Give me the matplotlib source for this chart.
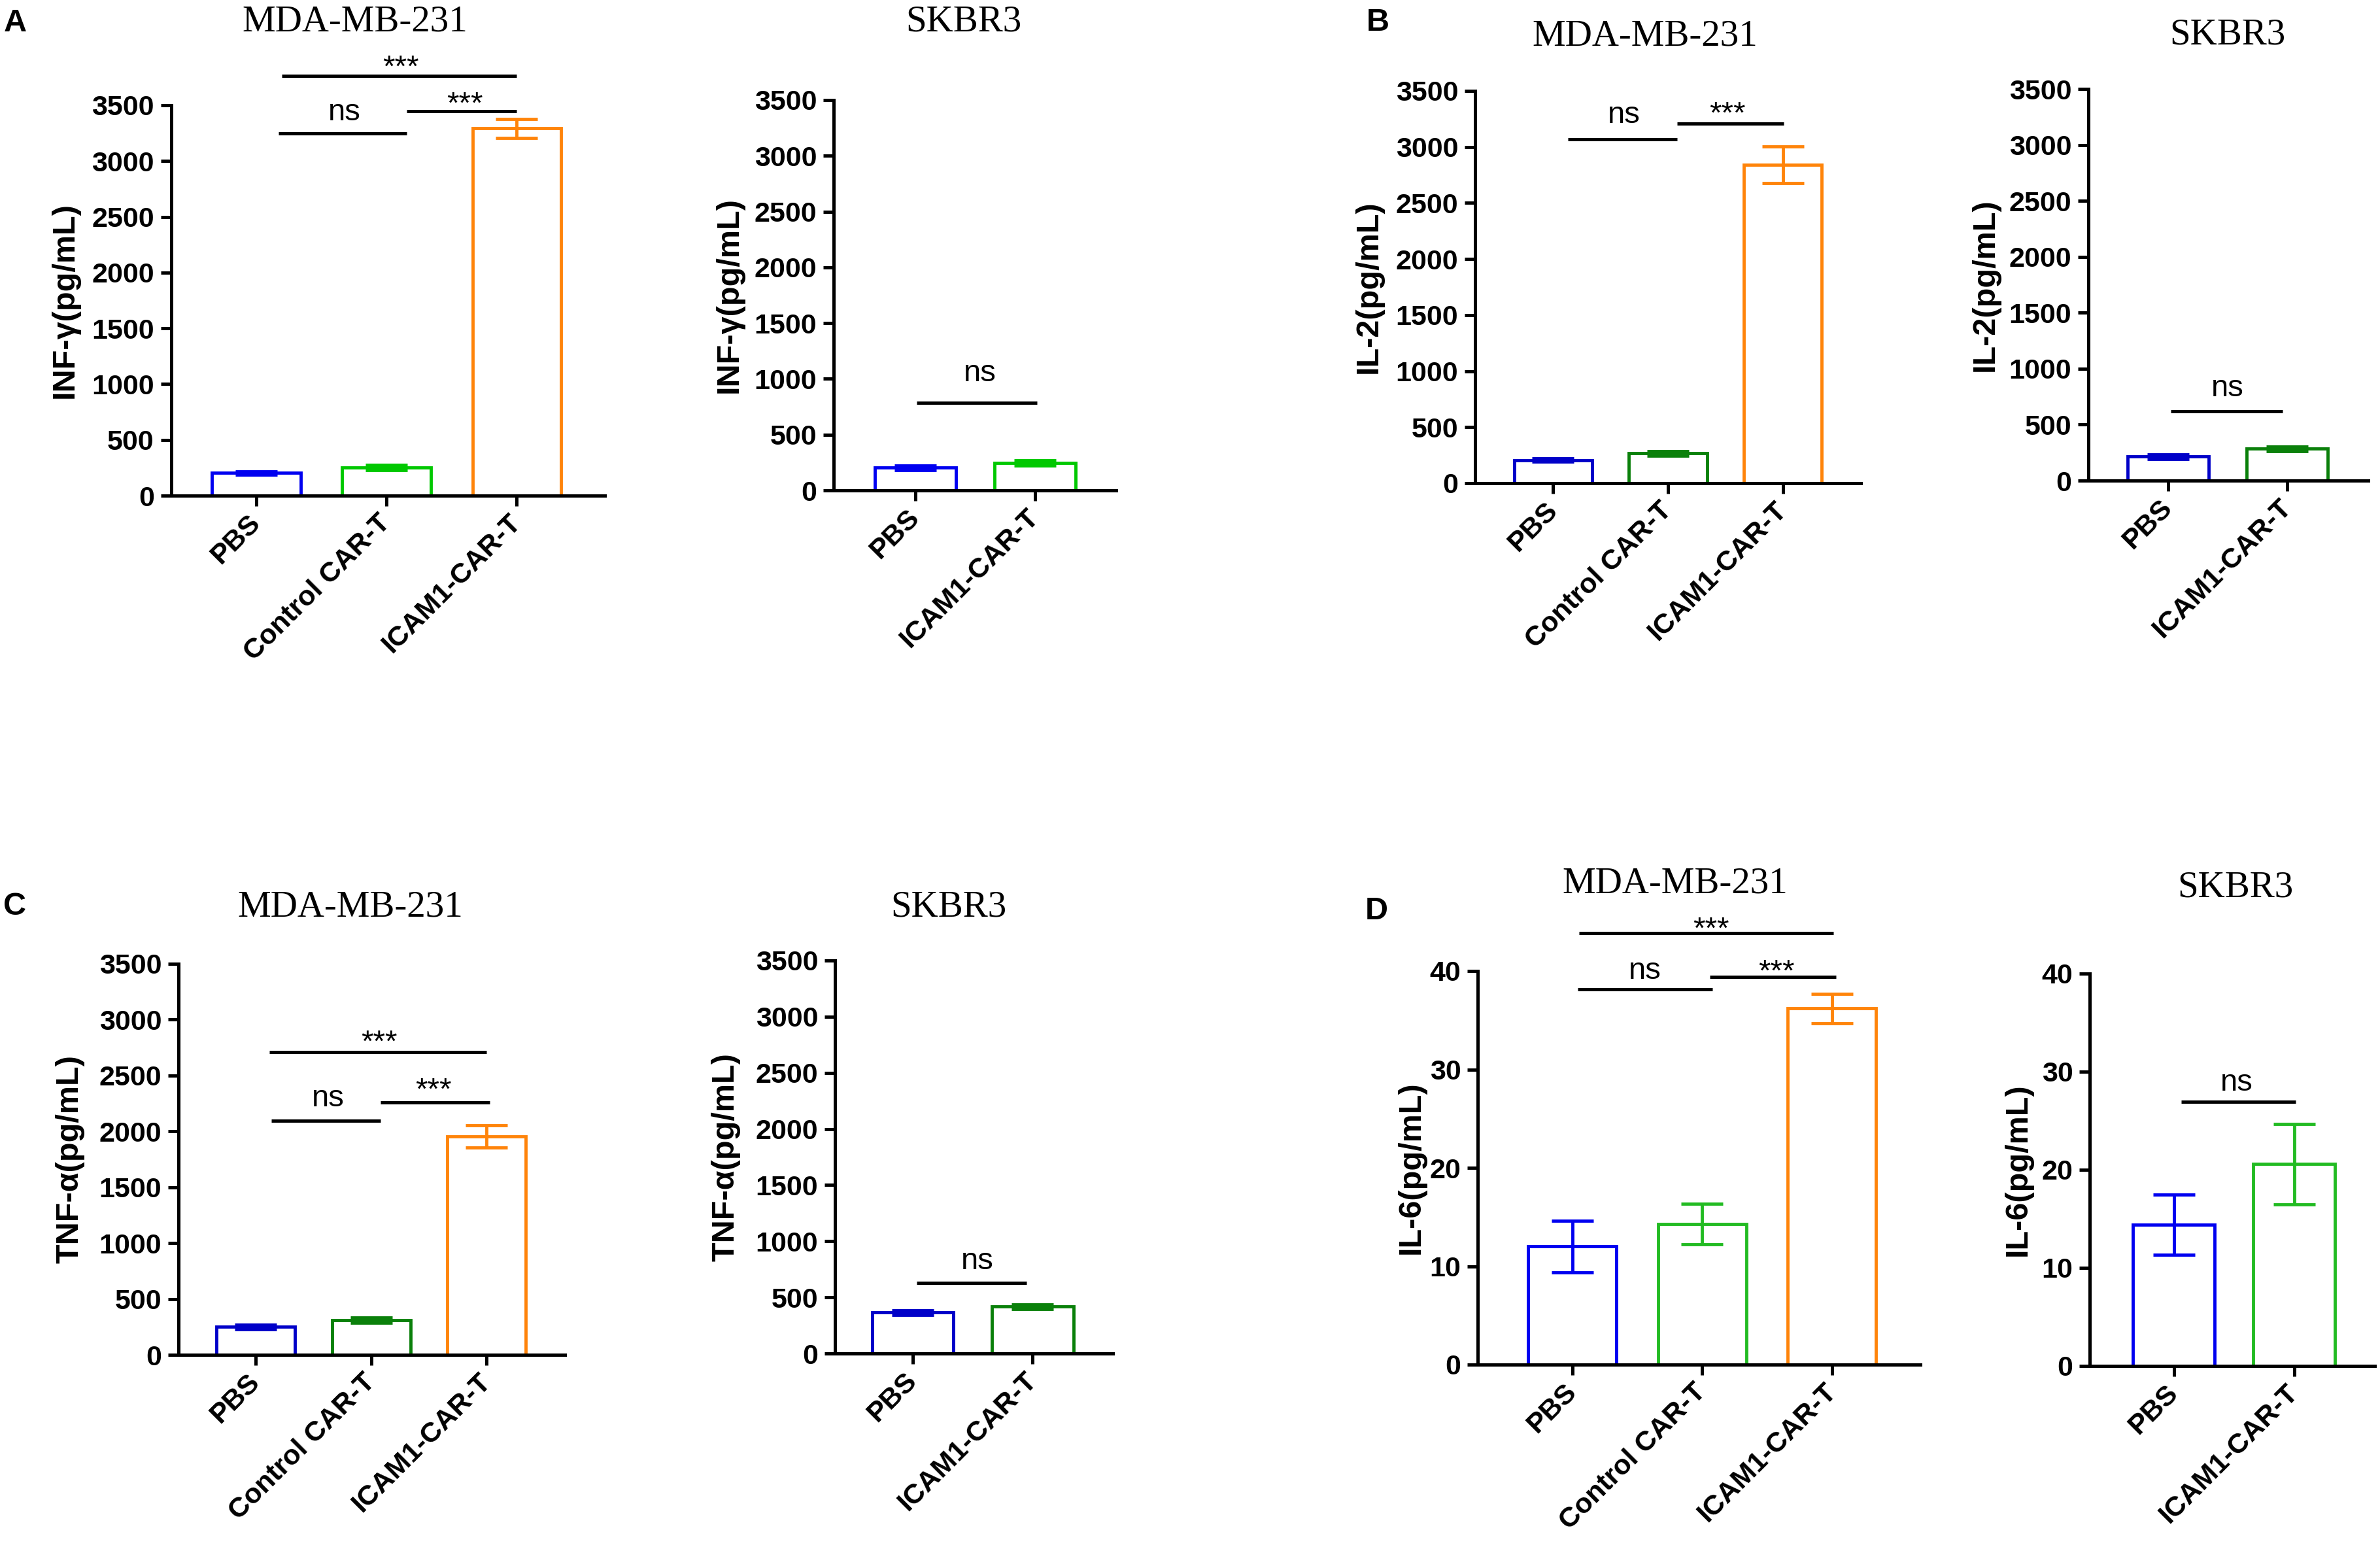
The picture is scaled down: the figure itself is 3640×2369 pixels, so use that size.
import matplotlib
matplotlib.use('Agg')
import matplotlib.pyplot as plt
from matplotlib.transforms import offset_copy

SANS = 'Liberation Sans'
SERIF = 'Liberation Serif'

# ---- data ----
cats3 = ['PBS', 'Control CAR-T', 'ICAM1-CAR-T']
cats2 = ['PBS', 'ICAM1-CAR-T']

ifn_mda = [204, 251, 3292]
ifn_mda_err = [15, 25, 85]
ifn_sk = [204, 247]
ifn_sk_err = [20, 25]

il2_mda = [207, 266, 2840]
il2_mda_err = [15, 22, 165]
il2_sk = [215, 285]
il2_sk_err = [20, 20]

tnf_mda = [251, 311, 1955]
tnf_mda_err = [20, 25, 100]
tnf_sk = [365, 417]
tnf_sk_err = [22, 20]

il6_mda = [12.0, 14.3, 36.2]
il6_mda_err = [2.6, 2.05, 1.5]
il6_sk = [14.4, 20.6]
il6_sk_err = [3.05, 4.1]

BLUE_A = '#0000f0'
BLUE_B = '#0000c8'
GREEN_A = '#00c800'
GREEN_B = '#0a800a'
GREEN_D = '#22bb22'
ORANGE = '#ff840a'

W, H = 3640, 2369
fig = plt.figure(figsize=(W / 100, H / 100), dpi=100)
LW = 3.5


def panel(box, xlim, cats, vals, errs, colors, ytop, ystep, ylabel, ylab_x,
          title, title_xy, brackets):
    l, r, t, b = box
    ax = fig.add_axes([l / W, 1 - b / H, (r - l) / W, (b - t) / H])
    x = list(range(len(cats)))
    ax.bar(x, vals, width=0.68, fill=False, edgecolor=colors, linewidth=LW, zorder=2)
    for xi, v, e, c in zip(x, vals, errs, colors):
        ax.errorbar(xi, v, yerr=e, fmt='none', ecolor=c, elinewidth=LW,
                    capsize=23, capthick=LW, zorder=3)
    ax.set_xlim(*xlim)
    ax.set_ylim(0, ytop)
    ax.set_yticks(list(range(0, ytop + 1, ystep)))
    ax.set_xticks(x)
    ax.set_xticklabels(cats, rotation=45, ha='right', va='center',
                       rotation_mode='anchor')
    for s in ['top', 'right']:
        ax.spines[s].set_visible(False)
    for s in ['left', 'bottom']:
        ax.spines[s].set_linewidth(3.6)
        ax.spines[s].set_zorder(4)
    ax.tick_params(width=3.6, length=11.5, labelsize=31)
    ax.tick_params(axis='y', pad=7)
    ax.tick_params(axis='x', pad=14)
    for lab in ax.get_xticklabels() + ax.get_yticklabels():
        lab.set_fontfamily(SANS)
        lab.set_fontweight('bold')
    fig.text(ylab_x / W, 1 - ((t + b) / 2) / H, ylabel, rotation=90, ha='center',
             va='center', fontsize=35, fontweight='bold', family=SANS)
    fig.text(title_xy[0] / W, 1 - title_xy[1] / H, title, ha='center',
             va='baseline', fontsize=41, family=SERIF)
    star_tr = offset_copy(ax.transData, fig=fig, y=-19, units='points')
    for x1, x2, y, txt, tx, ty in brackets:
        ax.plot([x1, x2], [y, y], color='black', lw=3.6, clip_on=False,
                solid_capstyle='butt', zorder=5)
        if txt == 'ns':
            ax.text(tx, ty, txt, ha='center', va='baseline', fontsize=34,
                    family=SANS, clip_on=False)
        else:
            ax.text(tx, ty, txt, ha='center', va='baseline', fontsize=34,
                    family=SANS, clip_on=False, transform=star_tr)
    return ax


# A
panel((261.5, 925, 161, 758), (-0.654, 2.676), cats3, ifn_mda, ifn_mda_err,
      [BLUE_A, GREEN_A, ORANGE], 3500, 500, 'INF-γ(pg/mL)', 99,
      'MDA-MB-231', (543, 48),
      [(0.17, 1.157, 3249, 'ns', 0.68, 3363),
       (1.157, 2.0, 3449, '***', 1.60, 3586),
       (0.196, 2.0, 3763, '***', 1.11, 3912)])
panel((1275, 1707, 153, 750), (-0.685, 1.68), cats2, ifn_sk, ifn_sk_err,
      [BLUE_A, GREEN_A], 3500, 500, 'INF-γ(pg/mL)', 1115,
      'SKBR3', (1474, 48),
      [(0.01, 1.02, 785, 'ns', 0.54, 981)])

# B
panel((2256, 2846, 139, 739), (-0.68, 2.68), cats3, il2_mda, il2_mda_err,
      [BLUE_B, GREEN_B, ORANGE], 3500, 500, 'IL-2(pg/mL)', 2093,
      'MDA-MB-231', (2516, 69),
      [(0.13, 1.08, 3070, 'ns', 0.62, 3215),
       (1.08, 2.01, 3207, '***', 1.52, 3371)])
panel((3194, 3622, 136, 735), (-0.67, 1.68), cats2, il2_sk, il2_sk_err,
      [BLUE_B, GREEN_B], 3500, 500, 'IL-2(pg/mL)', 3036,
      'SKBR3', (3407, 68),
      [(0.02, 0.96, 618, 'ns', 0.5, 755)])

# C
panel((273, 864, 1474, 2072), (-0.67, 2.68), cats3, tnf_mda, tnf_mda_err,
      [BLUE_B, GREEN_B, ORANGE], 3500, 500, 'TNF-α(pg/mL)', 107,
      'MDA-MB-231', (536, 1401),
      [(0.135, 1.08, 2097, 'ns', 0.625, 2224),
       (1.08, 2.03, 2260, '***', 1.54, 2444),
       (0.12, 2.0, 2707, '***', 1.07, 2874)])
panel((1277, 1702, 1469, 2070), (-0.65, 1.67), cats2, tnf_sk, tnf_sk_err,
      [BLUE_B, GREEN_B], 3500, 500, 'TNF-α(pg/mL)', 1110,
      'SKBR3', (1451, 1401),
      [(0.03, 0.95, 627, 'ns', 0.54, 754)])

# D
panel((2260, 2937, 1485, 2087), (-0.73, 2.68), cats3, il6_mda, il6_mda_err,
      [BLUE_A, GREEN_D, ORANGE], 40, 10, 'IL-6(pg/mL)', 2158,
      'MDA-MB-231', (2562, 1365),
      [(0.04, 1.08, 38.14, 'ns', 0.56, 39.2),
       (1.06, 2.03, 39.4, '***', 1.57, 40.8),
       (0.05, 2.01, 43.85, '***', 1.07, 45.1)])
panel((3196, 3632, 1489, 2089), (-0.70, 1.67), cats2, il6_sk, il6_sk_err,
      [BLUE_A, GREEN_D], 40, 10, 'IL-6(pg/mL)', 3086,
      'SKBR3', (3419, 1372),
      [(0.06, 1.01, 26.95, 'ns', 0.52, 28.1)])

# panel letters
for letter, lx, ly in [('A', 6, 48), ('B', 2090, 47), ('C', 5, 1399), ('D', 2088, 1406)]:
    fig.text(lx / W, 1 - ly / H, letter, ha='left', va='baseline', fontsize=35,
             fontweight='bold', family=SANS)

fig.savefig('out.png', dpi=100)
